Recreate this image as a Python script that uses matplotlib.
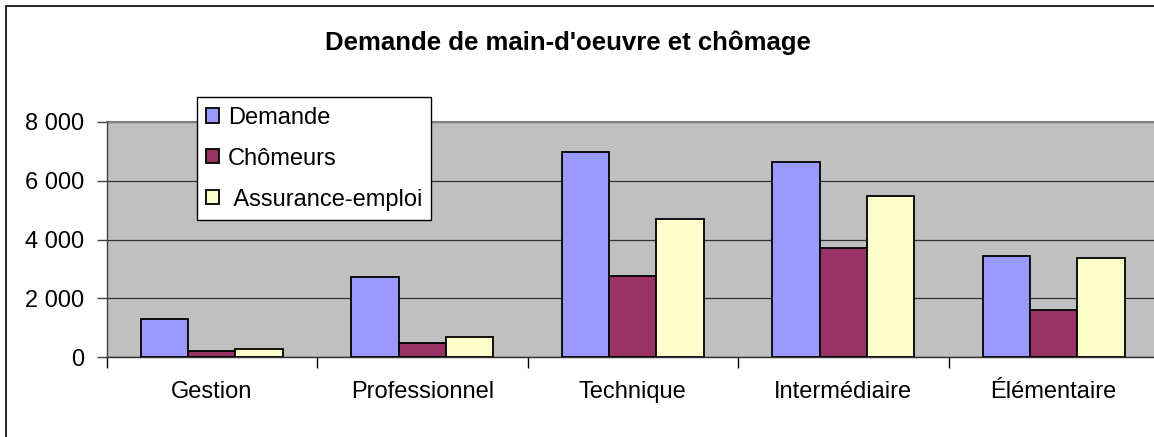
import matplotlib
matplotlib.use("Agg")
import matplotlib.pyplot as plt
from matplotlib.patches import Rectangle
import numpy as np

plt.rcParams['font.family'] = ['Liberation Sans', 'DejaVu Sans']

title = "Demande de main-d'oeuvre et chômage"
categories = ["Gestion", "Professionnel", "Technique", "Intermédiaire", "Élémentaire"]
series_names = ["Demande", "Chômeurs", " Assurance-emploi"]
demande = [1290, 2720, 6980, 6640, 3450]
chomeurs = [200, 475, 2775, 3720, 1610]
assurance = [280, 680, 4690, 5480, 3380]
y_ticks = [0, 2000, 4000, 6000, 8000]
y_tick_labels = ["0", "2 000", "4 000", "6 000", "8 000"]

colors = ["#9999FF", "#993366", "#FFFFCC"]

W, H = 1154, 437
fig = plt.figure(figsize=(W / 100, H / 100), dpi=100)
fig.patch.set_facecolor("white")

# outer chart border (only top/left visible in the crop)
fig.add_artist(Rectangle((5.5 / W, -0.1), 1.2, 1 - 5.5 / H + 0.1, transform=fig.transFigure,
                         fill=False, edgecolor="#000000", linewidth=1.2))

left, right = 106.5 / W, 1159 / W
bottom, top = 1 - 357.3 / H, 1 - 121.7 / H
ax = fig.add_axes([left, bottom, right - left, top - bottom])
ax.set_facecolor("#C0C0C0")

x = np.arange(len(categories))
bw = 0.225
for i, (vals, name, c) in enumerate(zip([demande, chomeurs, assurance], series_names, colors)):
    ax.bar(x + (i - 1) * bw, vals, width=bw, color=c, edgecolor="black", linewidth=1.3,
           label=name, zorder=3)

ax.set_xlim(-0.5, len(categories) - 0.5)
ax.set_ylim(0, 8000)
ax.set_yticks(y_ticks)
ax.set_yticklabels(y_tick_labels, fontsize=17)
ax.yaxis.grid(True, color="#303030", linewidth=0.9, zorder=1)
ax.set_axisbelow(True)

ax.set_xticks(np.arange(len(categories) + 1) - 0.5)
ax.set_xticklabels([])
ax.set_xticks(x, minor=True)
ax.set_xticklabels(categories, minor=True, fontsize=17)
ax.tick_params(axis="x", which="minor", length=0, pad=17)
ax.tick_params(axis="x", which="major", length=8, width=1, color="black", direction="out")
ax.tick_params(axis="y", length=7, width=1, color="#404040", direction="out", pad=9.0)

for s in ["top", "right"]:
    ax.spines[s].set_visible(False)
ax.spines["left"].set_color("#404040")
ax.spines["left"].set_linewidth(1.0)
ax.spines["bottom"].set_color("#303030")
ax.spines["bottom"].set_linewidth(1.0)
ax.axhline(8000, color="#808080", linewidth=1.5, zorder=2, clip_on=False)

fig.text(568 / W, 1 - 43 / H, title, ha="center", va="center", fontsize=18.5, fontweight="bold")

leg = fig.legend(loc="upper left", bbox_to_anchor=(196.7 / W, 1 - 97.3 / H), borderaxespad=0,
                 fontsize=17, handlelength=0.56, handleheight=0.56, handletextpad=0.35,
                 labelspacing=0.8, borderpad=0.4, fancybox=False, framealpha=1,
                 edgecolor="black")
leg.get_frame().set_linewidth(1.0)

fig.savefig("out.png", dpi=100, facecolor="white")
